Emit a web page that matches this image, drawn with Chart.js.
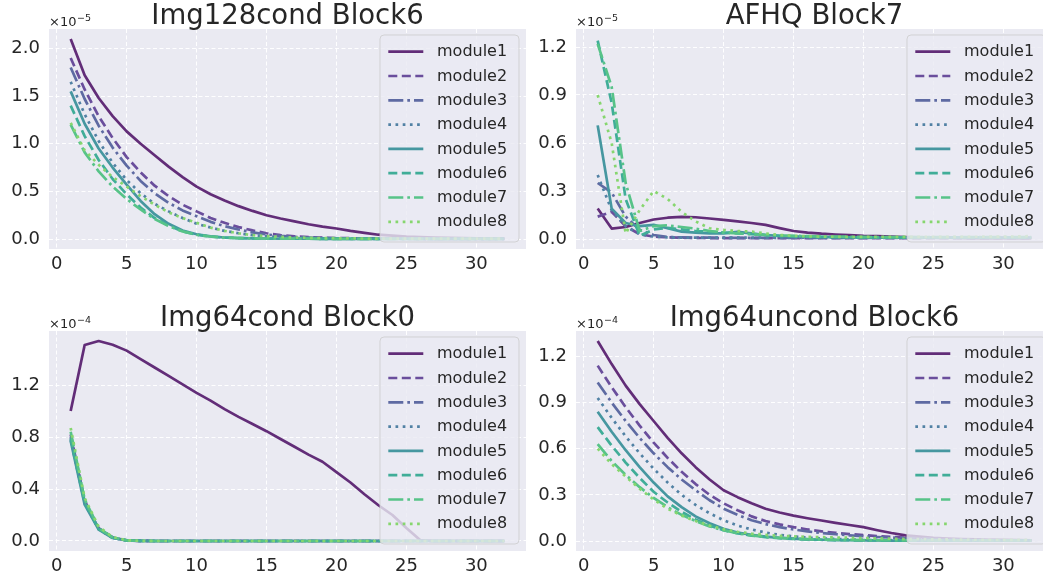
<!DOCTYPE html>
<html><head><meta charset="utf-8">
<script src="https://cdn.jsdelivr.net/npm/chart.js@4.4.1/dist/chart.umd.min.js"></script>
<style>
html,body{margin:0;padding:0;background:#fff;overflow:hidden;width:1043px;height:579px;position:relative}
.box{position:absolute;width:530px;height:290px}
</style></head><body>
<div class="box" style="left:0;top:0"><canvas id="c0" width="530" height="290"></canvas></div>
<div class="box" style="left:527px;top:0"><canvas id="c1" width="530" height="290"></canvas></div>
<div class="box" style="left:0;top:302px"><canvas id="c2" width="530" height="290"></canvas></div>
<div class="box" style="left:527px;top:302px"><canvas id="c3" width="530" height="290"></canvas></div>
<script>
// ---------- data ----------
const steps = [1,2,3,4,5,6,7,8,9,10,11,12,13,14,15,16,17,18,19,20,21,22,23,24,25,26,27,28,29,30,31,32];
const moduleNames = ["module1","module2","module3","module4","module5","module6","module7","module8"];
const xTicks = [0,5,10,15,20,25,30];

// Img128cond Block6 (x1e-5)
const img128_m1 = [2.10,1.72,1.48,1.29,1.13,1.00,0.88,0.76,0.65,0.55,0.47,0.405,0.345,0.295,0.25,0.215,0.185,0.155,0.13,0.11,0.085,0.065,0.045,0.035,0.025,0.02,0.015,0.012,0.01,0.008,0.006,0.005];
const img128_m2 = [1.90,1.57,1.29,1.06,0.86,0.70,0.56,0.45,0.36,0.29,0.22,0.17,0.125,0.09,0.06,0.04,0.028,0.02,0.014,0.01,0.008,0.006,0.005,0.004,0.003,0.003,0.002,0.002,0.002,0.002,0.002,0.002];
const img128_m3 = [1.80,1.47,1.19,0.96,0.77,0.61,0.48,0.38,0.30,0.24,0.18,0.135,0.10,0.07,0.048,0.032,0.022,0.015,0.01,0.008,0.006,0.005,0.004,0.003,0.003,0.002,0.002,0.002,0.002,0.002,0.002,0.002];
const img128_m4 = [1.65,1.31,1.03,0.80,0.62,0.48,0.37,0.29,0.22,0.16,0.12,0.085,0.06,0.04,0.028,0.02,0.014,0.01,0.008,0.006,0.005,0.004,0.003,0.003,0.002,0.002,0.002,0.002,0.002,0.002,0.002,0.002];
const img128_m5 = [1.55,1.21,0.95,0.75,0.57,0.40,0.26,0.16,0.09,0.05,0.028,0.016,0.01,0.007,0.005,0.004,0.003,0.003,0.002,0.002,0.002,0.002,0.002,0.002,0.002,0.002,0.002,0.002,0.002,0.002,0.002,0.002];
const img128_m6 = [1.40,1.08,0.83,0.63,0.47,0.33,0.22,0.14,0.08,0.045,0.026,0.015,0.01,0.007,0.005,0.004,0.003,0.003,0.002,0.002,0.002,0.002,0.002,0.002,0.002,0.002,0.002,0.002,0.002,0.002,0.002,0.002];
const img128_m7 = [1.20,0.91,0.71,0.55,0.42,0.31,0.21,0.135,0.08,0.045,0.026,0.015,0.01,0.007,0.005,0.004,0.003,0.003,0.002,0.002,0.002,0.002,0.002,0.002,0.002,0.002,0.002,0.002,0.002,0.002,0.002,0.002];
const img128_m8 = [1.22,0.93,0.78,0.65,0.55,0.45,0.36,0.28,0.22,0.17,0.12,0.085,0.06,0.04,0.03,0.022,0.016,0.012,0.01,0.008,0.006,0.005,0.004,0.004,0.003,0.003,0.003,0.003,0.003,0.003,0.003,0.003];
const img128_yTicks = [0.0,0.5,1.0,1.5,2.0];

// AFHQ Block7 (x1e-5)
const afhq_m1 = [0.19,0.065,0.075,0.10,0.122,0.133,0.138,0.136,0.128,0.12,0.11,0.10,0.088,0.068,0.05,0.04,0.033,0.028,0.024,0.02,0.018,0.015,0.012,0.01,0.009,0.008,0.007,0.006,0.006,0.005,0.005,0.005];
const afhq_m2 = [0.14,0.17,0.08,0.03,0.015,0.01,0.008,0.007,0.006,0.006,0.005,0.005,0.005,0.005,0.005,0.005,0.005,0.005,0.005,0.005,0.005,0.005,0.005,0.005,0.005,0.005,0.005,0.005,0.005,0.005,0.005,0.005];
const afhq_m3 = [0.35,0.29,0.14,0.057,0.025,0.012,0.01,0.008,0.008,0.007,0.007,0.007,0.007,0.007,0.007,0.007,0.007,0.007,0.007,0.007,0.007,0.007,0.007,0.007,0.007,0.007,0.007,0.007,0.007,0.007,0.007,0.007];
const afhq_m4 = [0.40,0.18,0.08,0.03,0.015,0.01,0.008,0.008,0.008,0.008,0.008,0.008,0.008,0.008,0.008,0.008,0.008,0.008,0.008,0.008,0.008,0.008,0.008,0.008,0.008,0.008,0.008,0.008,0.008,0.008,0.008,0.008];
const afhq_m5 = [0.71,0.19,0.10,0.08,0.088,0.067,0.046,0.04,0.035,0.035,0.045,0.035,0.025,0.02,0.017,0.014,0.012,0.011,0.01,0.009,0.009,0.008,0.008,0.008,0.008,0.008,0.008,0.008,0.008,0.008,0.008,0.008];
const afhq_m6 = [1.24,0.85,0.25,0.02,0.06,0.07,0.06,0.05,0.045,0.04,0.035,0.03,0.025,0.02,0.018,0.015,0.013,0.012,0.011,0.01,0.01,0.01,0.01,0.01,0.01,0.01,0.01,0.01,0.01,0.01,0.01,0.01];
const afhq_m7 = [1.22,0.95,0.35,0.05,0.08,0.085,0.075,0.065,0.05,0.04,0.035,0.03,0.025,0.022,0.02,0.018,0.016,0.015,0.014,0.013,0.012,0.012,0.012,0.012,0.012,0.012,0.012,0.012,0.012,0.012,0.012,0.012];
const afhq_m8 = [0.90,0.60,0.035,0.18,0.30,0.25,0.17,0.11,0.067,0.057,0.05,0.046,0.035,0.025,0.02,0.017,0.015,0.014,0.013,0.013,0.013,0.013,0.013,0.013,0.013,0.013,0.014,0.014,0.015,0.015,0.016,0.018];
const afhq_yTicks = [0.0,0.3,0.6,0.9,1.2];

// Img64cond Block0 (x1e-4)
const c64_m1 = [1.00,1.508,1.539,1.51,1.465,1.40,1.335,1.27,1.205,1.14,1.08,1.015,0.955,0.90,0.845,0.785,0.725,0.665,0.61,0.53,0.45,0.36,0.275,0.20,0.10,0.005,0,0,0,0,0,0];
const c64_m2 = [0.82,0.31,0.10,0.027,0.005,0.001,0,0,0,0,0,0,0,0,0,0,0,0,0,0,0,0,0,0,0,0,0,0,0,0,0,0];
const c64_m3 = [0.80,0.30,0.095,0.026,0.005,0.001,0,0,0,0,0,0,0,0,0,0,0,0,0,0,0,0,0,0,0,0,0,0,0,0,0,0];
const c64_m4 = [0.78,0.29,0.09,0.024,0.004,0.001,0,0,0,0,0,0,0,0,0,0,0,0,0,0,0,0,0,0,0,0,0,0,0,0,0,0];
const c64_m5 = [0.77,0.28,0.088,0.023,0.004,0.001,0,0,0,0,0,0,0,0,0,0,0,0,0,0,0,0,0,0,0,0,0,0,0,0,0,0];
const c64_m6 = [0.79,0.30,0.093,0.025,0.005,0.001,0,0,0,0,0,0,0,0,0,0,0,0,0,0,0,0,0,0,0,0,0,0,0,0,0,0];
const c64_m7 = [0.84,0.32,0.10,0.028,0.005,0.001,0,0,0,0,0,0,0,0,0,0,0,0,0,0,0,0,0,0,0,0,0,0,0,0,0,0];
const c64_m8 = [0.87,0.33,0.11,0.03,0.006,0.001,0,0,0,0,0,0,0,0,0,0,0,0,0,0,0,0,0,0,0,0,0,0,0,0,0,0];
const c64_yTicks = [0.0,0.4,0.8,1.2];

// Img64uncond Block6 (x1e-4)
const u64_m1 = [1.30,1.15,1.01,0.89,0.78,0.67,0.57,0.48,0.40,0.33,0.285,0.245,0.21,0.185,0.165,0.148,0.133,0.118,0.104,0.09,0.07,0.052,0.037,0.028,0.02,0.015,0.012,0.01,0.008,0.007,0.006,0.005];
const u64_m2 = [1.14,1.00,0.87,0.75,0.64,0.54,0.45,0.37,0.30,0.245,0.20,0.16,0.13,0.108,0.09,0.075,0.063,0.053,0.045,0.038,0.032,0.027,0.022,0.018,0.014,0.011,0.009,0.007,0.006,0.005,0.004,0.004];
const u64_m3 = [1.03,0.90,0.78,0.67,0.57,0.48,0.40,0.33,0.265,0.21,0.17,0.135,0.11,0.09,0.075,0.062,0.052,0.044,0.037,0.031,0.026,0.022,0.018,0.015,0.012,0.01,0.008,0.006,0.005,0.004,0.004,0.003];
const u64_m4 = [0.93,0.80,0.68,0.57,0.47,0.38,0.30,0.235,0.18,0.135,0.10,0.075,0.055,0.04,0.03,0.022,0.017,0.013,0.01,0.008,0.007,0.006,0.005,0.004,0.004,0.003,0.003,0.003,0.003,0.003,0.003,0.003];
const u64_m5 = [0.84,0.71,0.59,0.48,0.38,0.29,0.22,0.16,0.115,0.08,0.055,0.04,0.028,0.02,0.015,0.011,0.008,0.006,0.005,0.004,0.004,0.003,0.003,0.003,0.003,0.003,0.003,0.003,0.003,0.003,0.003,0.003];
const u64_m6 = [0.74,0.62,0.51,0.41,0.32,0.25,0.19,0.14,0.10,0.07,0.05,0.035,0.025,0.018,0.013,0.01,0.008,0.006,0.005,0.004,0.004,0.003,0.003,0.003,0.003,0.003,0.003,0.003,0.003,0.003,0.003,0.003];
const u64_m7 = [0.63,0.52,0.43,0.35,0.28,0.22,0.17,0.13,0.095,0.07,0.05,0.036,0.026,0.02,0.015,0.012,0.01,0.008,0.007,0.006,0.005,0.005,0.004,0.004,0.004,0.004,0.004,0.004,0.004,0.004,0.004,0.004];
const u64_m8 = [0.60,0.50,0.42,0.34,0.27,0.21,0.165,0.13,0.10,0.077,0.06,0.048,0.04,0.034,0.03,0.027,0.025,0.023,0.021,0.019,0.017,0.015,0.013,0.012,0.011,0.01,0.009,0.008,0.008,0.007,0.007,0.007];
const u64_yTicks = [0.0,0.3,0.6,0.9,1.2];

// ---------- styles ----------
const colors = ['#622D78','#6A4E9C','#5E6AA2','#5181A4','#4697A0','#40AD98','#57C388','#86D66E'];
const LW = 2.7;
const DASHED = [9,4.5], DASHDOT = [15,4,2.7,4], DOTTED = [2.7,4.5];
const dashes = [[],DASHED,DASHDOT,DOTTED,[],DASHED,DASHDOT,DOTTED];
const FONT = '"DejaVu Sans", "Liberation Sans", sans-serif';
const TXT = '#262626';

function decorPlugin(title, exponent){
  return {
    id:'decor',
    beforeDraw(chart){
      const {ctx, chartArea:a} = chart;
      ctx.save(); ctx.fillStyle = '#EAEAF2';
      ctx.fillRect(a.left, a.top, a.right-a.left, a.bottom-a.top);
      ctx.restore();
    },
    afterDraw(chart){
      const {ctx, chartArea:a} = chart;
      ctx.save();
      // title
      ctx.fillStyle = TXT; ctx.font = '27.5px ' + FONT;
      ctx.textAlign = 'center'; ctx.textBaseline = 'alphabetic';
      ctx.fillText(title, (a.left+a.right)/2, a.top - 5.5);
      // offset text
      ctx.textAlign = 'left'; ctx.font = '13px ' + FONT;
      const base = a.top - 3;
      ctx.fillText('\u00d710', a.left, base);
      const w = ctx.measureText('\u00d710').width;
      ctx.font = '9.5px ' + FONT;
      ctx.fillText(exponent, a.left + w + 0.5, base - 5.5);
      // legend
      const bw = 139, bh = 207;
      const bx = a.right - 7 - bw, by = a.top + 6;
      ctx.beginPath();
      ctx.roundRect(bx, by, bw, bh, 4);
      ctx.fillStyle = 'rgba(234,234,242,0.8)';
      ctx.fill();
      ctx.lineWidth = 1; ctx.strokeStyle = 'rgba(204,204,204,0.8)';
      ctx.stroke();
      chart.data.datasets.forEach((ds, i) => {
        const y = by + 16.7 + 24.3*i;
        ctx.beginPath();
        ctx.setLineDash(ds.borderDash);
        ctx.lineCap = 'butt';
        ctx.strokeStyle = ds.borderColor; ctx.lineWidth = ds.borderWidth;
        ctx.moveTo(bx + 8.3, y); ctx.lineTo(bx + 43.3, y); ctx.stroke();
        ctx.setLineDash([]);
        ctx.fillStyle = TXT; ctx.font = '16px ' + FONT;
        ctx.textBaseline = 'middle'; ctx.textAlign = 'left';
        ctx.fillText(ds.label, bx + 57, y + 0.5);
      });
      ctx.restore();
    }
  };
}

function makeChart(id, title, exponent, series, yTicks, yMin, yMax){
  const datasets = series.map((arr, i) => ({
    label: moduleNames[i],
    data: steps.map((s, j) => ({x: s, y: arr[j]})),
    borderColor: colors[i],
    borderWidth: LW,
    borderDash: dashes[i],
    borderCapStyle: 'butt',
    borderJoinStyle: 'round',
    pointRadius: 0,
    tension: 0,
    fill: false,
    order: series.length - i   // later modules drawn on top, as in the reference
  }));
  const gridOpts = {color: 'rgba(255,255,255,0.95)', lineWidth: 1, drawTicks: false};
  return new Chart(document.getElementById(id), {
    type: 'line',
    data: {datasets},
    options: {
      responsive: false, animation: false, events: [],
      layout: {padding: {top: 29, left: 0, right: 4, bottom: 0}},
      plugins: {legend: {display: false}, tooltip: {enabled: false}, title: {display: false}},
      scales: {
        x: {
          type: 'linear', min: -0.55, max: 33.55,
          afterBuildTicks: s => { s.ticks = xTicks.map(v => ({value: v})); },
          afterFit: s => { s.height = 41; },
          grid: gridOpts,
          border: {display: false, dash: [4, 2.5]},
          ticks: {color: TXT, font: {family: FONT, size: 18}, padding: 5, maxRotation: 0,
                  callback: v => String(v)}
        },
        y: {
          type: 'linear', min: yMin, max: yMax,
          afterBuildTicks: s => { s.ticks = yTicks.map(v => ({value: v})); },
          afterFit: s => { s.width = 49; },
          grid: gridOpts,
          border: {display: false, dash: [4, 2.5]},
          ticks: {color: TXT, font: {family: FONT, size: 18}, padding: 9,
                  callback: v => Number(v).toFixed(1)}
        }
      }
    },
    plugins: [decorPlugin(title, exponent)]
  });
}

makeChart('c0', 'Img128cond Block6', '\u22125',
  [img128_m1,img128_m2,img128_m3,img128_m4,img128_m5,img128_m6,img128_m7,img128_m8],
  img128_yTicks, -0.105, 2.205);
makeChart('c1', 'AFHQ Block7', '\u22125',
  [afhq_m1,afhq_m2,afhq_m3,afhq_m4,afhq_m5,afhq_m6,afhq_m7,afhq_m8],
  afhq_yTicks, -0.0625, 1.3125);
makeChart('c2', 'Img64cond Block0', '\u22124',
  [c64_m1,c64_m2,c64_m3,c64_m4,c64_m5,c64_m6,c64_m7,c64_m8],
  c64_yTicks, -0.077, 1.616);
makeChart('c3', 'Img64uncond Block6', '\u22124',
  [u64_m1,u64_m2,u64_m3,u64_m4,u64_m5,u64_m6,u64_m7,u64_m8],
  u64_yTicks, -0.065, 1.365);
</script>
</body></html>
